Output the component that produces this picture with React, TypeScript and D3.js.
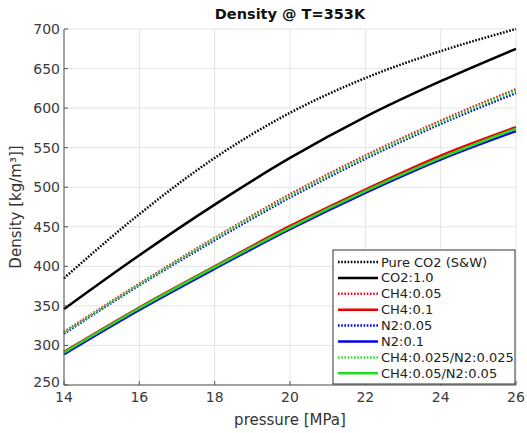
import * as d3 from 'd3';

const pressure = [14, 16, 18, 20, 22, 24, 26];

const pureCO2 = [385, 466, 537, 594, 638, 672, 700];
const co2 = [346, 414, 478, 537, 589, 634, 675];
const ch4Lo = [317, 378, 436, 491, 540, 584, 624];
const ch4Hi = [292, 348, 400, 451, 497, 540, 576];
const n2Lo = [315, 376, 433, 487, 536, 580, 619];
const n2Hi = [289, 345, 397, 447, 493, 535, 571];
const mixLo = [316, 377, 435, 489, 538, 582, 622];
const mixHi = [291, 347, 399, 449, 495, 537, 574];

const xTicks = [14, 16, 18, 20, 22, 24, 26];
const yTicks = [250, 300, 350, 400, 450, 500, 550, 600, 650, 700];

const series = [
  { name: 'Pure CO2 (S&W)', values: pureCO2, color: '#000000', dotted: true },
  { name: 'CO2:1.0', values: co2, color: '#000000', dotted: false },
  { name: 'CH4:0.05', values: ch4Lo, color: '#e3102a', dotted: true },
  { name: 'CH4:0.1', values: ch4Hi, color: '#ee0000', dotted: false },
  { name: 'N2:0.05', values: n2Lo, color: '#0000dd', dotted: true },
  { name: 'N2:0.1', values: n2Hi, color: '#0000ee', dotted: false },
  { name: 'CH4:0.025/N2:0.025', values: mixLo, color: '#33e033', dotted: true },
  { name: 'CH4:0.05/N2:0.05', values: mixHi, color: '#22dd22', dotted: false },
];

const font = '"DejaVu Sans", sans-serif';

export default function App() {
  const left = 64;
  const right = 516;
  const top = 29;
  const bottom = 385;

  const x = d3.scaleLinear().domain([14, 26]).range([left, right]);
  const y = d3.scaleLinear().domain([250, 700]).range([bottom, top]);

  const line = (vals: number[]) =>
    d3
      .line<number>()
      .x((_, i) => x(pressure[i]))
      .y((d) => y(d))
      .curve(d3.curveMonotoneX)(vals) || '';

  const legX = 333;
  const legY = 250;
  const legW = 182;
  const legH = 134;
  const rowY = (i: number) => legY + 12 + i * 15.9;

  return (
    <svg width={527} height={433} style={{ position: 'absolute', left: 0, top: 0, background: '#fff' }}>
      <rect x={0} y={0} width={527} height={433} fill="#fff" />
      <text x={290} y={19} textAnchor="middle" fontFamily={font} fontWeight="bold" fontSize={14.5} fill="#111">
        Density @ T=353K
      </text>

      {/* grid */}
      {xTicks.map((t) => (
        <line key={'gx' + t} x1={x(t)} x2={x(t)} y1={top} y2={bottom} stroke="#e4e4e4" strokeWidth={1} />
      ))}
      {yTicks.map((t) => (
        <line key={'gy' + t} x1={left} x2={right} y1={y(t)} y2={y(t)} stroke="#e4e4e4" strokeWidth={1} />
      ))}

      {/* lines */}
      {series.map((s) => (
        <path
          key={s.name}
          d={line(s.values)}
          fill="none"
          stroke={s.color}
          strokeWidth={2.5}
          strokeDasharray={s.dotted ? '1.6 1.6' : undefined}
        />
      ))}

      {/* axes */}
      <line x1={left} x2={left} y1={top} y2={bottom} stroke="#555" strokeWidth={1} />
      <line x1={left} x2={right} y1={bottom} y2={bottom} stroke="#555" strokeWidth={1} />
      {xTicks.map((t) => (
        <g key={'xt' + t}>
          <line x1={x(t)} x2={x(t)} y1={bottom} y2={bottom - 4} stroke="#555" />
          <text x={x(t)} y={bottom + 17} textAnchor="middle" fontFamily={font} fontSize={14} fill="#3a3a3a">
            {t}
          </text>
        </g>
      ))}
      {yTicks.map((t) => (
        <g key={'yt' + t}>
          <line x1={left} x2={left + 4} y1={y(t)} y2={y(t)} stroke="#555" />
          <text x={left - 4} y={y(t) + (t === 250 ? 2 : 5)} textAnchor="end" fontFamily={font} fontSize={14} fill="#3a3a3a">
            {t}
          </text>
        </g>
      ))}

      <text x={290} y={425} textAnchor="middle" fontFamily={font} fontSize={15} fill="#333">
        pressure [MPa]
      </text>
      <text
        transform={`translate(21, ${(top + bottom) / 2}) rotate(-90)`}
        textAnchor="middle"
        fontFamily={font}
        fontSize={15}
        fill="#333"
      >
        Density [kg/m³]]
      </text>

      {/* legend */}
      <rect x={legX} y={legY} width={legW} height={legH} fill="#fff" stroke="#333" strokeWidth={1} />
      {series.map((s, i) => (
        <g key={'lg' + s.name}>
          <line
            x1={legX + 5}
            x2={legX + 45}
            y1={rowY(i)}
            y2={rowY(i)}
            stroke={s.color}
            strokeWidth={2.5}
            strokeDasharray={s.dotted ? '1.6 1.6' : undefined}
          />
          <text x={legX + 48} y={rowY(i) + 4.5} fontFamily={font} fontSize={13} fill="#222">
            {s.name}
          </text>
        </g>
      ))}
    </svg>
  );
}
